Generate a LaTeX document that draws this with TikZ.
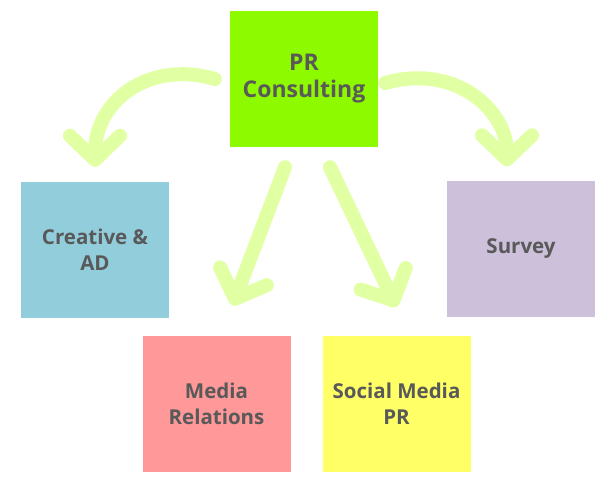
\documentclass[tikz,border=0pt]{standalone}
\usepackage{fontspec}
\setmainfont{Open Sans}
\usetikzlibrary{arrows.meta}

\definecolor{prgreen}{HTML}{8EFA00}
\definecolor{adblue}{HTML}{92CDDC}
\definecolor{surveylilac}{HTML}{CCC0DA}
\definecolor{mediapink}{HTML}{FF9999}
\definecolor{socialyellow}{HTML}{FFFF66}
\definecolor{txtgrey}{HTML}{595959}
\definecolor{sketchgreen}{HTML}{E1FFA3}

\begin{document}
\begin{tikzpicture}[x=1pt,y=-1pt,
  box/.style={minimum width=148pt,minimum height=136pt,inner sep=0pt,
    align=center,text=txtgrey,font=\bfseries\fontsize{20.5}{26}\selectfont},
  sketch/.style={draw=sketchgreen,line width=14pt,line cap=round,line join=round,
    -{Straight Barb[round,length=24pt,width=50pt]}}]
  \useasboundingbox (0,0) rectangle (616,490);
  % boxes
  \node[box,fill=prgreen,font=\bfseries\fontsize{23}{27}\selectfont] (pr) at (304,79) {PR\\Consulting};
  \node[box,fill=adblue] (creative) at (95,250) {Creative \&\\AD};
  \node[box,fill=surveylilac] (survey) at (521,248.5) {Survey};
  \node[box,fill=mediapink] (media) at (216.5,403.5) {Media\\Relations};
  \node[box,fill=socialyellow] (social) at (396.5,404) {Social Media\\PR};
  % arrows
  \draw[sketch] ([xshift=-15pt]pr.west) .. controls (150,60) and (95,100) .. ([yshift=15pt]creative.north);
  \draw[sketch] ([xshift=7pt,yshift=-4pt]pr.east) .. controls (455,63) and (507,110) .. ([xshift=-14pt,yshift=14pt]survey.north);
  \draw[sketch] ([xshift=-19pt,yshift=-20pt]pr.south) -- ([xshift=16pt,yshift=30pt]media.north);
  \draw[sketch] ([xshift=26pt,yshift=-20pt]pr.south) -- ([yshift=29pt]social.north);
\end{tikzpicture}
\end{document}
